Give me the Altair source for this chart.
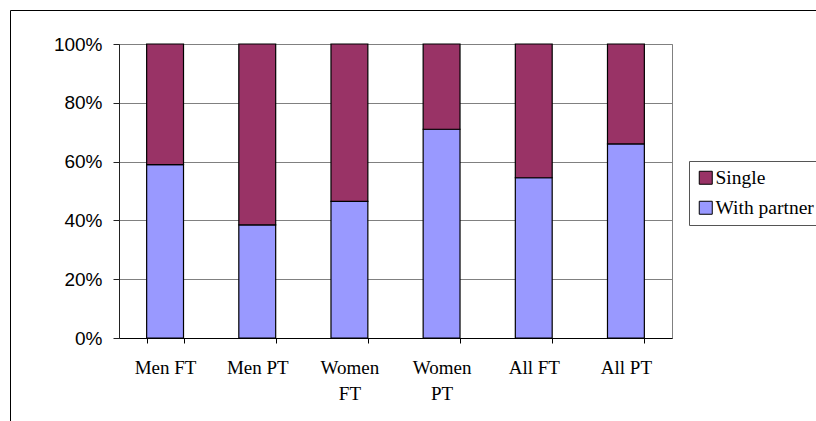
import altair as alt
import pandas as pd

# Share of workers living with a partner vs. single, by sex and working time (%)
groups = ["Men FT", "Men PT", "Women FT", "Women PT", "All FT", "All PT"]
with_partner = [59.0, 38.5, 46.5, 71.0, 54.5, 66.0]
single = [41.0, 61.5, 53.5, 29.0, 45.5, 34.0]

statuses = ["Single", "With partner"]
colors = ["#993366", "#9999FF"]

rows = []
for g, wp, s in zip(groups, with_partner, single):
    rows.append({"group": g, "status": "With partner", "share": wp, "stack_order": 0})
    rows.append({"group": g, "status": "Single", "share": s, "stack_order": 1})
df = pd.DataFrame(rows)

serif = "Liberation Serif"
sans = "Liberation Sans"

bars = alt.Chart(df).mark_bar(stroke="black", strokeWidth=1.2, strokeOpacity=1).encode(
    x=alt.X(
        "group:N",
        sort=groups,
        scale=alt.Scale(paddingInner=0.6, paddingOuter=0.3),
        axis=alt.Axis(
            title=None,
            labelAngle=0,
            tickBand="extent",
            tickSize=5,
            tickColor="black",
            domainColor="black",
            labelFont=serif,
            labelFontSize=19,
            labelColor="black",
            labelBaseline="top",
            labelPadding=15,
            labelLineHeight=26,
            labelExpr="indexof(datum.label, 'Women') == 0 ? split(datum.label, ' ') : datum.label",
            grid=False,
        ),
    ),
    y=alt.Y(
        "share:Q",
        stack="normalize",
        scale=alt.Scale(domain=[0, 1], nice=False),
        axis=alt.Axis(
            title=None,
            format=".0%",
            values=[0, 0.2, 0.4, 0.6, 0.8, 1.0],
            tickSize=6,
            tickColor="#222",
            domainColor="#222",
            labelFont=sans,
            labelFontSize=19,
            labelColor="black",
            labelPadding=11,
            grid=True,
            gridColor="#808080",
            gridWidth=1,
        ),
    ),
    color=alt.Color(
        "status:N",
        scale=alt.Scale(domain=statuses, range=colors),
        legend=alt.Legend(
            title=None,
            orient="none",
            legendX=570,
            legendY=117,
            padding=7,
            strokeColor="#555",
            fillColor="white",
            symbolType="square",
            symbolSize=169,
            symbolStrokeColor="black",
            symbolStrokeWidth=1,
            symbolOpacity=1,
            labelFont=serif,
            labelFontSize=19.5,
            labelColor="black",
            labelOffset=0,
            rowPadding=9,
        ),
    ),
    order=alt.Order("stack_order:Q"),
)

# Outer chart frame
frame = alt.Chart(pd.DataFrame({"k": [0]})).mark_rect(
    fill="transparent", stroke="black", strokeWidth=1, clip=False
).encode(
    x=alt.value(-108.5),
    x2=alt.value(760),
    y=alt.value(-33.5),
    y2=alt.value(440),
)

chart = (
    alt.layer(bars, frame)
    .properties(
        width=553,
        height=294,
        autosize="none",
        padding={"left": 119, "top": 44, "right": 144, "bottom": 83},
        background="white",
    )
    .configure_view(stroke="#808080", strokeWidth=1)
    .configure_legend(labelFont=serif, labelFontSize=19.5)
)

chart.save("out.html", embed_options={"renderer": "svg", "actions": False})
